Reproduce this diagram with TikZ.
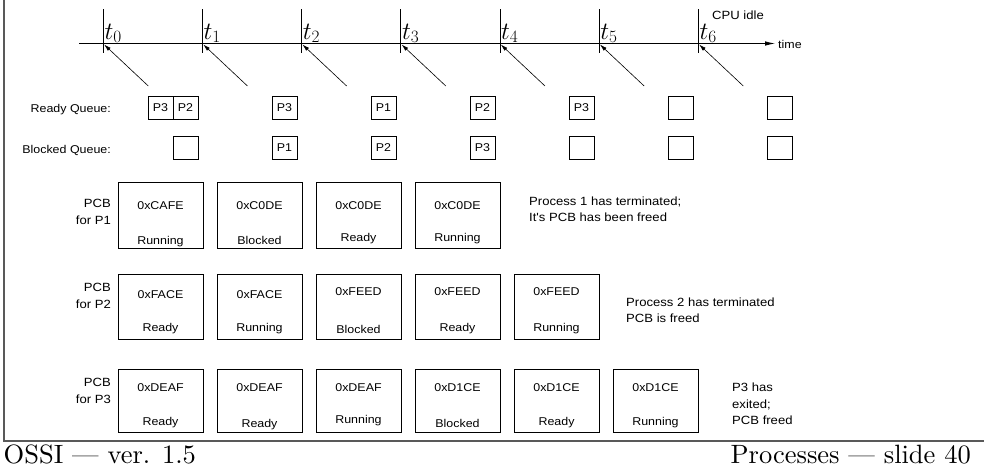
\documentclass[tikz,border=0pt]{standalone}
\usepackage{fontspec}
\newfontfamily\labfont{Liberation Sans}[FakeStretch=1.1]
\newfontfamily\footfont{lmroman10-regular.otf}[Ligatures=TeX]
\usetikzlibrary{arrows.meta,calc}
\begin{document}
\begin{tikzpicture}[x=1pt,y=-1pt,
  lab/.style={font=\labfont\fontsize{11.3}{17}\selectfont, inner sep=0pt, text height=8.1pt, text depth=0pt},
  note/.style={font=\labfont\fontsize{11.9}{16.5}\selectfont, inner sep=0pt, text height=8.5pt, text depth=0pt},
  qbox/.style={lab, draw, line width=0.7pt, minimum width=25pt, minimum height=23pt},
  pcbbox/.style={draw, line width=0.7pt, minimum width=85pt, inner sep=0pt},
  tickline/.style={line width=0.8pt},
  ptr/.style={line width=0.6pt, -{Latex[length=7pt,width=4pt]}},
  framecol/.style={draw=black!65, line width=1.1pt},
  foot/.style={font=\footfont\fontsize{26.5}{30}\selectfont, inner sep=0pt, anchor=base}]
\useasboundingbox (0,0) rectangle (984,467);

% frame
\coordinate (fTL) at (4,0);
\coordinate (fBL) at (4,441);
\coordinate (fBR) at (984,441);
\draw[framecol] (fTL) -- (fBL) -- (fBR);

% timeline
\coordinate (tlS) at (79,43.5);
\coordinate (tlE) at (775,43.5);
\draw[line width=0.8pt, -{Latex[length=10pt,width=4.5pt]}] (tlS) -- (tlE);
\node[lab, anchor=west] (time) at (778,44) {time};
\node[note, anchor=west] (idle) at (712,15) {CPU idle};

\foreach \i in {0,...,6} {
  \pgfmathsetmacro\xx{103.3+99.17*\i}
  \coordinate (ta\i) at (\xx,9);
  \coordinate (tb\i) at (\xx,53);
  \draw[tickline] (ta\i) -- (tb\i);
  \node[anchor=base west, inner sep=0pt, font=\fontsize{24}{28}\selectfont] (tl\i) at (\xx+1,39) {$t_{\i}$};
  \coordinate (as\i) at (\xx+45,86);
  \coordinate (ah\i) at (\xx+0.8,44.5);
  \draw[ptr] (as\i) -- (ah\i);
}

% queues
\node[lab, anchor=east] (rqlab) at (111,108) {Ready Queue:};
\node[lab, anchor=east] (bqlab) at (111,149) {Blocked Queue:};
\node[qbox] (rq0) at (160.5,107.5) {P3};
\foreach \c/\t [count=\k] in {185.5/P2,284.5/P3,383.5/P1,482.5/P2,581.5/P3,680.5/,779.5/} {
  \node[qbox] (rq\k) at (\c,107.5) {\t};
}
\foreach \c/\t [count=\k] in {185.5/,284.5/P1,383.5/P2,482.5/P3,581.5/,680.5/,779.5/} {
  \node[qbox] (bq\k) at (\c,147.5) {\t};
}

% PCB labels
\node[note, anchor=south east, align=right, font=\labfont\fontsize{11.9}{17.5}\selectfont] (pcb1) at (111,225) {PCB\\for P1};
\node[note, anchor=south east, align=right, font=\labfont\fontsize{11.9}{17}\selectfont] (pcb2) at (111,309) {PCB\\for P2};
\node[note, anchor=south east, align=right, font=\labfont\fontsize{11.9}{17}\selectfont] (pcb3) at (111,404) {PCB\\for P3};

% PCB row 1
\foreach \ta/\tbot/\ty/\by [count=\k from 0] in {0xCAFE/Running/24/59,0xC0DE/Blocked/24/59,0xC0DE/Ready/24/56,0xC0DE/Running/24/56} {
  \node[pcbbox, minimum height=66pt] (pa\k) at (160.5+99*\k,215) {};
  \node[lab] (pat\k) at ($(pa\k.north)+(0,\ty)$) {\ta};
  \node[lab] (pab\k) at ($(pa\k.north)+(0,\by)$) {\tbot};
}
% PCB row 2
\foreach \ta/\tbot/\ty/\by [count=\k from 0] in {0xFACE/Ready/21/54,0xFACE/Running/21/54,0xFEED/Blocked/18/56,0xFEED/Ready/18/54,0xFEED/Running/18/54} {
  \node[pcbbox, minimum height=65pt] (pb\k) at (160.5+99*\k,306.5) {};
  \node[lab] (pbt\k) at ($(pb\k.north)+(0,\ty)$) {\ta};
  \node[lab] (pbb\k) at ($(pb\k.north)+(0,\by)$) {\tbot};
}
% PCB row 3
\foreach \ta/\tbot/\ty/\by [count=\k from 0] in {0xDEAF/Ready/19/53,0xDEAF/Ready/19/55,0xDEAF/Running/19/51,0xD1CE/Blocked/19/55,0xD1CE/Ready/19/53,0xD1CE/Running/19/53} {
  \node[pcbbox, minimum height=63pt] (pc\k) at (160.5+99*\k,400.5) {};
  \node[lab] (pct\k) at ($(pc\k.north)+(0,\ty)$) {\ta};
  \node[lab] (pcb\k) at ($(pc\k.north)+(0,\by)$) {\tbot};
}

% notes
\node[note, anchor=south west, align=left, font=\labfont\fontsize{11.9}{16}\selectfont] (n1) at (529,222) {Process 1 has terminated;\\It's PCB has been freed};
\node[note, anchor=south west, align=left, font=\labfont\fontsize{11.9}{16}\selectfont] (n2) at (626,323) {Process 2 has terminated\\PCB is freed};
\node[note, anchor=south west, align=left, font=\labfont\fontsize{11.9}{16.5}\selectfont] (n3) at (732,425) {P3 has\\exited;\\PCB freed};

% footer
\node[foot, anchor=base west] (fl) at (3.5,463.5) {OSSI --- ver. 1.5};
\node[foot, anchor=base east] (fr) at (971,463.5) {Processes --- slide 40};
\end{tikzpicture}
\end{document}
